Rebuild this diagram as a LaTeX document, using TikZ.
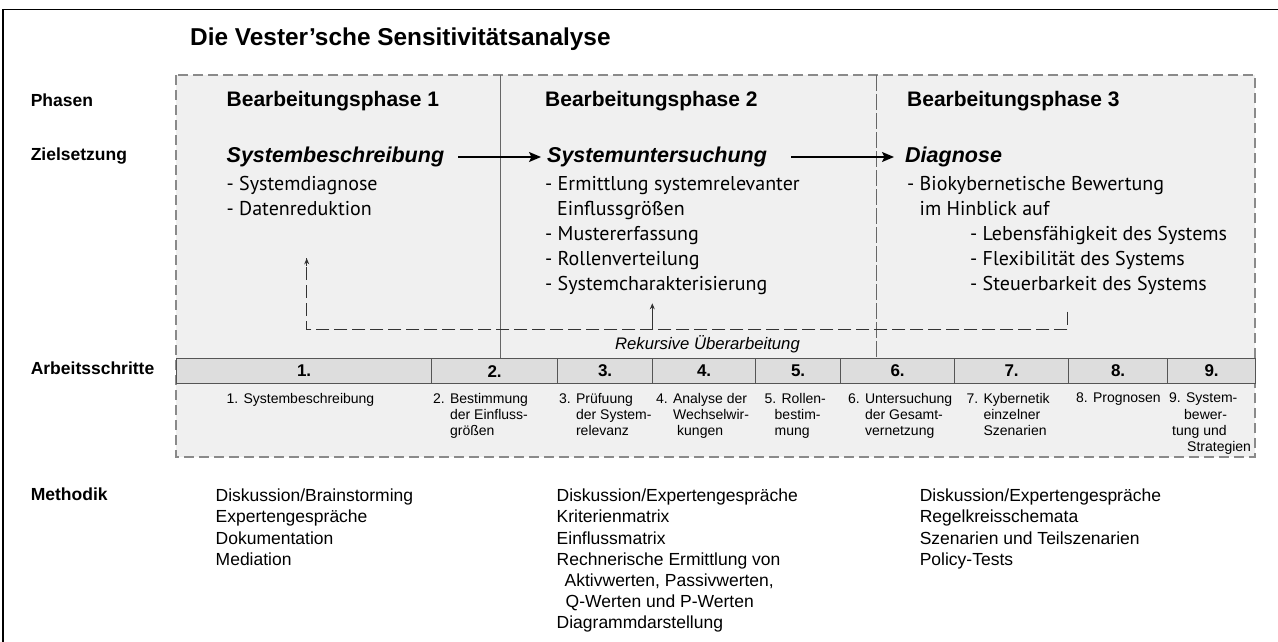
\documentclass[tikz,border=0pt]{standalone}
\usepackage{fontspec}
\setmainfont{Liberation Sans}
\newfontfamily\hum{PT Sans}
\usetikzlibrary{arrows.meta,calc}

\definecolor{boxfill}{HTML}{F0F0F0}
\definecolor{barfill}{HTML}{DDDDDD}
\definecolor{boxline}{HTML}{8A8A8A}
\definecolor{barline}{HTML}{555555}

\begin{document}
\begin{tikzpicture}[x=1pt,y=-1pt,
  rowlabel/.style={anchor=west,inner sep=0,text height=12.6pt,text depth=3.7pt,
    font=\bfseries\fontsize{17.5}{20}\selectfont},
  phasehead/.style={anchor=west,inner sep=0,text height=15pt,text depth=4.4pt,
    font=\bfseries\fontsize{21}{24}\selectfont},
  goal/.style={anchor=west,inner sep=0,text height=15.4pt,text depth=4.5pt,
    font=\bfseries\itshape\fontsize{21.5}{25}\selectfont},
  items/.style={anchor=north west,align=left,inner sep=0,
    font=\hum\fontsize{20}{25}\selectfont},
  cellnum/.style={font=\bfseries\fontsize{17}{19}\selectfont},
  steptext/.style={anchor=north west,align=left,inner sep=0,
    font=\fontsize{14}{16.3}\selectfont},
  method/.style={anchor=north west,align=left,inner sep=0,
    font=\fontsize{17.5}{21.1}\selectfont},
  flow/.style={-{Stealth[length=12pt,width=10pt,inset=2.5pt]},line width=1.5pt},
  loopline/.style={dash pattern=on 13pt off 5pt,line width=1.1pt,color=black!80},
  looptip/.style={-{Stealth[length=6pt,width=5pt]},line width=1.1pt,color=black!80}
]
\useasboundingbox (0,0) rectangle (1278,642);
\fill[white] (0,0) rectangle (1278,642);

% outer frame (top and left edges)
\draw[line width=1.5pt] (1278,9.5) -- (3,9.5) -- (3,642);

% title
\node[anchor=base west,inner sep=0,font=\bfseries\fontsize{24.4}{28}\selectfont] (title) at (190,46)
  {Die Vester'sche Sensitivitätsanalyse};

% dashed frame around phases and steps
\path[fill=boxfill,draw=boxline,line width=1.1pt,dash pattern=on 10pt off 5pt]
  (176,75) rectangle (1255,457);

% phase dividers
\draw[color=black!60,line width=1pt] (500,75) -- (500,358);
\draw[color=black!60,line width=1pt,dash pattern=on 16pt off 3pt] (876,75) -- (876,358);

% row labels
\node[rowlabel] (lphasen) at (30.6,102) {Phasen};
\node[rowlabel] (lziel) at (30.6,156) {Zielsetzung};
\node[rowlabel] (lschritte) at (30.6,370.5) {Arbeitsschritte};
\node[rowlabel] (lmethodik) at (30.6,496) {Methodik};

% phase headings
\node[phasehead] (ph1) at (226.5,101) {Bearbeitungsphase 1};
\node[phasehead] (ph2) at (545,101) {Bearbeitungsphase 2};
\node[phasehead] (ph3) at (907,101) {Bearbeitungsphase 3};

% goals
\node[goal] (g1) at (226.5,157) {Systembeschreibung};
\node[goal] (g2) at (547,157) {Systemuntersuchung};
\node[goal] (g3) at (905,157) {Diagnose};
\draw[flow,shorten <=14pt,shorten >=6pt] (g1.east) -- (g2.west);
\draw[flow,shorten <=24pt,shorten >=11pt] (g2.east) -- (g3.west);

% goal details
\node[items] (i1) at (226.5,176.5) {- Systemdiagnose\\- Datenreduktion};
\node[items] (i2) at (545,176.5) {- Ermittlung systemrelevanter\\\hspace*{12pt}Einflussgrößen\\- Mustererfassung\\- Rollenverteilung\\- Systemcharakterisierung};
\node[items] (i3) at (907,176.5) {- Biokybernetische Bewertung\\\hspace*{12.5pt}im Hinblick auf};
\node[items] (i3b) at (970,226.5) {- Lebensfähigkeit des Systems\\- Flexibilität des Systems\\- Steuerbarkeit des Systems};

% recursive revision loop
\coordinate (loopR) at (1067.7,311.7);
\coordinate (loopRB) at (1067.7,329.3);
\coordinate (loopLB) at (306.7,329.3);
\coordinate (loopL) at (306.7,258.3);
\coordinate (loopM) at (652.3,329.3);
\coordinate (loopMT) at (652.3,303.3);
\draw[loopline] (loopR) -- (loopRB) -- (loopLB) -- (loopL);
\draw[looptip] ($(loopL)+(0,8)$) -- (loopL);
\draw[looptip] (loopM) -- (loopMT);
\node[inner sep=0,font=\itshape\fontsize{16.7}{19}\selectfont] (rek) at (707.5,344) {Rekursive Überarbeitung};

% working steps bar
\foreach \n/\a/\b in {1/176/431,2/431/557,3/557/652,4/652/755,5/755/840,
                      6/840/954,7/954/1068,8/1068/1167,9/1167/1255}{
  \node[cellnum,draw=barline,fill=barfill,line width=1.2pt,inner sep=0,
        minimum width={\b-\a}, minimum height=25pt,anchor=north west]
        (c\n) at (\a,358) {\n.};
}

% step descriptions
\node[steptext] (s1) at (226.5,393) {1. Systembeschreibung};
\node[steptext] (s2) at (433,393) {2. Bestimmung\\\phantom{2. }der Einfluss-\\\phantom{2. }größen};
\node[steptext] (s3) at (559,393) {3. Prüfuung\\\phantom{3. }der System-\\\phantom{3. }relevanz};
\node[steptext] (s4) at (656,393) {4. Analyse der\\\phantom{4. }Wechselwir-\\\hspace*{21pt}kungen};
\node[steptext] (s5) at (764.5,393) {5. Rollen-\\\hspace*{10pt}bestim-\\\hspace*{10pt}mung};
\node[steptext] (s6) at (848,393) {6. Untersuchung\\\phantom{6. }der Gesamt-\\\phantom{6. }vernetzung};
\node[steptext] (s7) at (966.5,393) {7. Kybernetik\\\phantom{7. }einzelner\\\phantom{7. }Szenarien};
\node[steptext] (s8) at (1076,393) {8. Prognosen};
\node[steptext] (s9) at (1169,393) {9. System-\\\hspace*{15pt}bewer-\\\hspace*{3pt}tung und\\\hspace*{18pt}Strategien};

% methods
\node[method] (m1) at (215.5,489) {Diskussion/Brainstorming\\Expertengespräche\\Dokumentation\\Mediation};
\node[method] (m2) at (556.5,489) {Diskussion/Expertengespräche\\Kriterienmatrix\\Einflussmatrix\\Rechnerische Ermittlung von\\\hspace*{8pt}Aktivwerten, Passivwerten,\\\hspace*{9pt}Q-Werten und P-Werten\\Diagrammdarstellung};
\node[method] (m3) at (919.6,489) {Diskussion/Expertengespräche\\Regelkreisschemata\\Szenarien und Teilszenarien\\Policy-Tests};
\end{tikzpicture}
\end{document}
